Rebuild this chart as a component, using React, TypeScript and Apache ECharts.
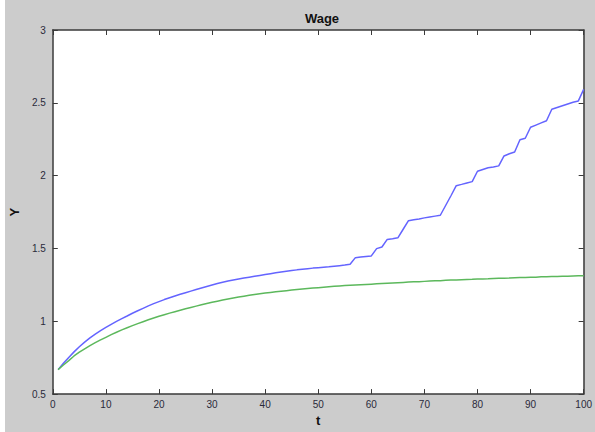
import React, { useEffect, useRef } from "react";
import * as echarts from "echarts";

const titleText = "Wage";
const xName = "t";
const yName = "Y";

const tValues: number[] = Array.from({ length: 100 }, (_, i) => i + 1);

const blueValues: number[] = [
  0.668, 0.712, 0.752, 0.790, 0.825, 0.857, 0.886, 0.912, 0.936, 0.958,
  0.979, 0.999, 1.018, 1.036, 1.055, 1.072, 1.089, 1.106, 1.121, 1.135,
  1.149, 1.162, 1.174, 1.185, 1.196, 1.207, 1.218, 1.229, 1.239, 1.249,
  1.259, 1.268, 1.276, 1.283, 1.290, 1.297, 1.303, 1.309, 1.315, 1.321,
  1.327, 1.333, 1.338, 1.343, 1.348, 1.353, 1.357, 1.361, 1.365, 1.368,
  1.371, 1.374, 1.378, 1.382, 1.386, 1.392, 1.437, 1.441, 1.445, 1.449,
  1.499, 1.510, 1.562, 1.567, 1.573, 1.632, 1.691, 1.697, 1.703, 1.710,
  1.716, 1.722, 1.728, 1.795, 1.862, 1.931, 1.940, 1.950, 1.959, 2.030,
  2.042, 2.054, 2.060, 2.067, 2.135, 2.150, 2.162, 2.246, 2.257, 2.332,
  2.347, 2.362, 2.377, 2.456, 2.468, 2.480, 2.492, 2.504, 2.513, 2.592,
];

const greenValues: number[] = [
  0.668, 0.700, 0.730, 0.762, 0.788, 0.811, 0.833, 0.853, 0.872, 0.890,
  0.908, 0.925, 0.941, 0.956, 0.970, 0.984, 0.997, 1.010, 1.022, 1.034,
  1.045, 1.056, 1.066, 1.076, 1.086, 1.095, 1.104, 1.113, 1.122, 1.130,
  1.138, 1.146, 1.153, 1.160, 1.166, 1.172, 1.178, 1.184, 1.189, 1.194,
  1.198, 1.202, 1.206, 1.210, 1.214, 1.218, 1.222, 1.225, 1.228, 1.231,
  1.234, 1.237, 1.240, 1.243, 1.245, 1.247, 1.249, 1.251, 1.253, 1.255,
  1.257, 1.259, 1.261, 1.263, 1.265, 1.267, 1.269, 1.271, 1.272, 1.274,
  1.276, 1.278, 1.279, 1.281, 1.283, 1.284, 1.286, 1.287, 1.288, 1.290,
  1.291, 1.292, 1.294, 1.295, 1.296, 1.297, 1.299, 1.300, 1.301, 1.302,
  1.303, 1.305, 1.306, 1.307, 1.308, 1.309, 1.310, 1.311, 1.312, 1.313,
];

const FONT = "'Liberation Sans', Arial, sans-serif";
const AXIS_COLOR = "#3a3a3a";

export default function App() {
  const ref = useRef<HTMLDivElement>(null);

  useEffect(() => {
    document.body.style.margin = "0";
    if (!ref.current) return;
    const chart = echarts.init(ref.current, undefined, { renderer: "svg" });

    const baseX = {
      type: "value" as const,
      min: 0,
      max: 100,
      interval: 10,
      splitLine: { show: false },
      axisLine: { show: true, onZero: false, lineStyle: { color: AXIS_COLOR, width: 1.5 } },
      axisTick: { show: true, inside: true, length: 5, lineStyle: { color: AXIS_COLOR, width: 1 } },
    };
    const baseY = {
      type: "value" as const,
      min: 0.5,
      max: 3,
      interval: 0.5,
      splitLine: { show: false },
      axisLine: { show: true, onZero: false, lineStyle: { color: AXIS_COLOR, width: 1.5 } },
      axisTick: { show: true, inside: true, length: 5, lineStyle: { color: AXIS_COLOR, width: 1 } },
    };

    chart.setOption({
      animation: false,
      backgroundColor: "#cccccc",
      title: {
        text: titleText,
        left: 317,
        textAlign: "center",
        top: 7,
        textStyle: { fontFamily: FONT, fontSize: 13, fontWeight: "bold", color: "#111" },
      },
      graphic: [
        {
          type: "rect",
          left: 0,
          top: 0,
          shape: { width: 5, height: 432 },
          style: { fill: "#ffffff" },
          silent: true,
        },
      ],
      grid: {
        left: 50,
        right: 11,
        top: 30,
        bottom: 34,
        show: true,
        backgroundColor: "#ffffff",
        borderWidth: 0,
      },
      xAxis: [
        {
          ...baseX,
          position: "bottom",
          name: xName,
          nameLocation: "middle",
          nameGap: 19,
          nameTextStyle: { fontFamily: FONT, fontSize: 13, fontWeight: "bold", color: "#111" },
          axisLabel: { fontFamily: FONT, fontSize: 10, color: "#2a2a3a", margin: 5 },
        },
        {
          ...baseX,
          position: "top",
          axisLabel: { show: false },
        },
      ],
      yAxis: [
        {
          ...baseY,
          position: "left",
          name: yName,
          nameLocation: "middle",
          nameGap: 31,
          nameTextStyle: { fontFamily: FONT, fontSize: 13, fontWeight: "bold", color: "#111" },
          axisLabel: { fontFamily: FONT, fontSize: 10, color: "#2a2a3a", margin: 7 },
        },
        {
          ...baseY,
          position: "right",
          axisLabel: { show: false },
        },
      ],
      series: [
        {
          type: "line",
          name: "blue",
          xAxisIndex: 0,
          yAxisIndex: 0,
          data: tValues.map((t, i) => [t, blueValues[i]]),
          showSymbol: false,
          lineStyle: { color: "#6464ff", width: 1.5 },
          itemStyle: { color: "#6464ff" },
        },
        {
          type: "line",
          name: "green",
          xAxisIndex: 0,
          yAxisIndex: 0,
          data: tValues.map((t, i) => [t, greenValues[i]]),
          showSymbol: false,
          lineStyle: { color: "#5cb85c", width: 1.5 },
          itemStyle: { color: "#5cb85c" },
        },
      ],
    });

    return () => chart.dispose();
  }, []);

  return <div ref={ref} style={{ width: 595, height: 432 }} />;
}
